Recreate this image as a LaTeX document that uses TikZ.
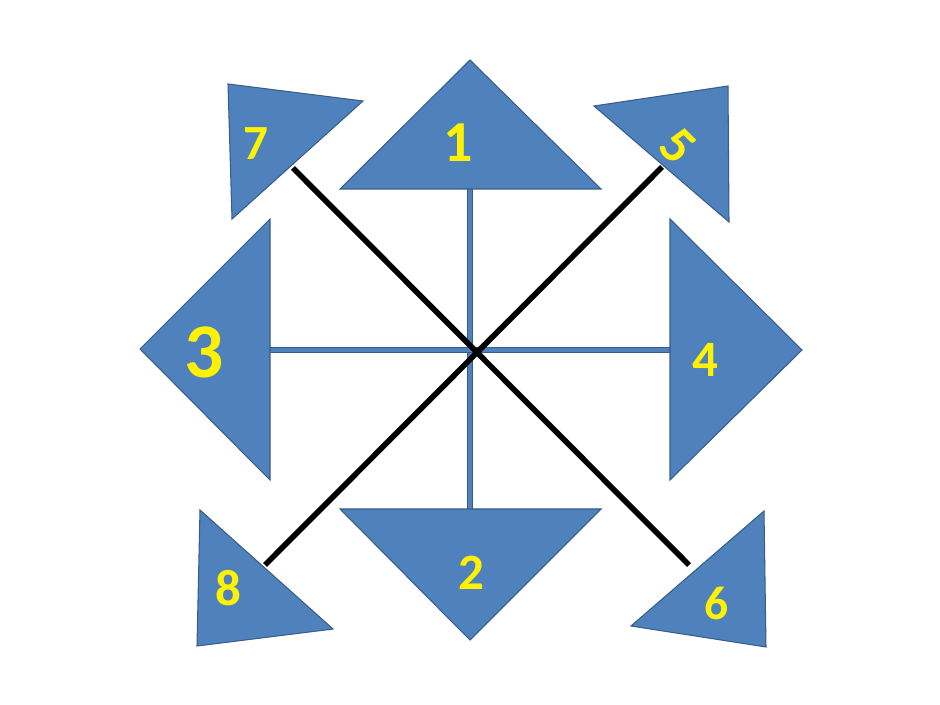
\documentclass[tikz,border=0pt]{standalone}
\usepackage{fontspec}
\newfontfamily\digitfont{Carlito}
\usetikzlibrary{positioning}
\definecolor{triblue}{HTML}{4F81BD}
\definecolor{triedge}{HTML}{385D8A}
\tikzset{
  tri/.style={draw=triedge, fill=triblue, line width=0.6pt, line join=miter},
  num/.style={text=yellow, inner sep=0pt, font=\digitfont\bfseries\fontsize{#1}{#1}\selectfont},
  bluebar/.style={draw=triedge, line width=0.6pt, double=triblue, double distance=2pt},
  blackbar/.style={draw=black, line width=3.2pt}
}
\begin{document}
\begin{tikzpicture}[x=0.02cm, y=-0.02cm]
%PICTURE SCOPE
\fill[white] (0,0) rectangle (940,705);
\useasboundingbox (0,0) rectangle (940,705);
%LINE ENDS
\coordinate (b1) at (470,189);
\coordinate (b2) at (470,509);
\coordinate (b3) at (270,350);
\coordinate (b4) at (670,350);
\coordinate (e7) at (293,168);
\coordinate (e6) at (689,565);
\coordinate (e5) at (662,167);
\coordinate (e8) at (265,565);
%%CONNECTIONS
\draw [bluebar] (b1) -- (b2);
\draw [bluebar] (b3) -- (b4);
\draw [blackbar] (e7) -- (e6);
\draw [blackbar] (e5) -- (e8);
%%TRIANGLES
\draw [tri] (470,60) -- (601,189) -- (340,189) -- cycle;
\draw [tri] (340,509) -- (601,509) -- (470,640) -- cycle;
\draw [tri] (140,349) -- (270,219) -- (270,480) -- cycle;
\draw [tri] (670,219) -- (802,350) -- (670,480) -- cycle;
\draw [tri] (228,84) -- (363,101) -- (232,219) -- cycle;
\draw [tri] (594,106) -- (728,86) -- (729,222) -- cycle;
\draw [tri] (200,510) -- (333,629) -- (197,646) -- cycle;
\draw [tri] (764,511) -- (766,647) -- (631,626) -- cycle;
%%LABELS
\node (one) [num=33] at (458,143) {1};
\node (two) [num=29] at (471,573) {2};
\node (three) [num=44] at (204,352) {3};
\node (four) [num=29] at (705,360) {4};
\node (five) [num=30, rotate=-45] at (678,146) {5};
\node (six) [num=27] at (717,603) {6};
\node (seven) [num=28] at (256,144) {7};
\node (eight) [num=29] at (228,588) {8};
\end{tikzpicture}
\end{document}
